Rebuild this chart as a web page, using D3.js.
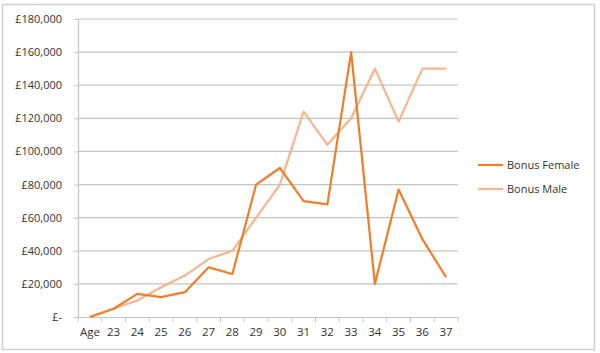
<!DOCTYPE html>
<html>
<head>
<meta charset="utf-8">
<script src="https://cdn.jsdelivr.net/npm/d3@7"></script>
<style>
  body { margin: 0; background: #fff; }
  text { font-family: "Open Sans", sans-serif; fill: #333; }
</style>
</head>
<body>
<div id="chart"></div>
<script>
const categories = ['Age', '23', '24', '25', '26', '27', '28', '29', '30', '31', '32', '33', '34', '35', '36', '37'];
const bonus_female = [0, 5000, 14000, 12000, 15000, 30000, 26000, 80000, 90000, 70000, 68000, 160000, 20000, 77000, 47000, 24000];
const bonus_male = [0, 5000, 10000, 18000, 25000, 35000, 40000, 60000, 80000, 124000, 104000, 120000, 150000, 118000, 150000, 150000];
const y_ticks = [0, 20000, 40000, 60000, 80000, 100000, 120000, 140000, 160000, 180000];

const series = [
    { name: 'Bonus Female', values: bonus_female, color: '#f07d2a' },
    { name: 'Bonus Male', values: bonus_male, color: '#f6b48f' },
];

const chart_width = 600;
const chart_height = 353;

const svg = d3.select('#chart')
    .append('svg')
    .attr('width', chart_width)
    .attr('height', chart_height);

// Outer border
svg.append('rect')
    .attr('x', 2.5)
    .attr('y', 4.5)
    .attr('width', 592)
    .attr('height', 345)
    .attr('fill', '#fff')
    .attr('stroke', '#d0d0d0')
    .attr('stroke-width', 1.5);

// Scales
const x_scale = d3.scaleBand()
    .domain(categories)
    .range([78, 458]);

const y_scale = d3.scaleLinear()
    .domain([0, 180000])
    .range([317, 19]);

// Gridlines
svg.append('g')
    .selectAll('line')
    .data(y_ticks.slice(1))
    .enter()
    .append('line')
    .attr('x1', 78)
    .attr('x2', 458)
    .attr('y1', d => y_scale(d))
    .attr('y2', d => y_scale(d))
    .attr('stroke', '#c4c4c4')
    .attr('stroke-width', 1.2);

// Y axis
const y_axis = d3.axisLeft(y_scale)
    .tickValues(y_ticks)
    .tickSize(4)
    .tickFormat(d => d === 0 ? '£-' : '£' + d3.format(',')(d));
const gy = svg.append('g')
    .attr('transform', 'translate(78, 0)')
    .call(y_axis);
gy.select('.domain').attr('stroke', '#c4c4c4').attr('stroke-width', 1.2);
gy.selectAll('.tick line').attr('stroke', '#c4c4c4');
gy.selectAll('.tick text')
    .attr('x', -16)
    .style('font-size', '11px')
    .style('font-family', '"Open Sans", sans-serif')
    .attr('fill', '#333');

// X axis
const x_axis = d3.axisBottom(x_scale)
    .tickSize(0)
    .tickPadding(11);
const gx = svg.append('g')
    .attr('transform', 'translate(0, 317)')
    .call(x_axis);
gx.select('.domain').attr('stroke', '#c4c4c4').attr('stroke-width', 1.2);
gx.selectAll('.tick text')
    .style('font-size', '11.5px')
    .style('font-family', '"Open Sans", sans-serif')
    .attr('fill', '#333');

// Category boundary ticks
svg.append('g')
    .selectAll('line')
    .data(categories)
    .enter()
    .append('line')
    .attr('x1', d => x_scale(d))
    .attr('x2', d => x_scale(d))
    .attr('y1', 317)
    .attr('y2', 322)
    .attr('stroke', '#c4c4c4');
svg.append('line')
    .attr('x1', 458).attr('x2', 458)
    .attr('y1', 317).attr('y2', 322)
    .attr('stroke', '#c4c4c4');

// Lines
const line = d3.line()
    .x((d, i) => x_scale(categories[i]) + x_scale.bandwidth() / 2)
    .y(d => y_scale(d));

svg.append('g')
    .selectAll('path')
    .data(series.slice().reverse())
    .enter()
    .append('path')
    .attr('d', d => line(d.values))
    .attr('fill', 'none')
    .attr('stroke', d => d.color)
    .attr('stroke-width', 2.2)
    .attr('stroke-linejoin', 'round');

// Legend
const legend = svg.append('g')
    .selectAll('g')
    .data(series)
    .enter()
    .append('g')
    .attr('transform', (d, i) => `translate(478, ${165 + i * 24})`);
legend.append('line')
    .attr('x1', 0)
    .attr('x2', 25)
    .attr('stroke', d => d.color)
    .attr('stroke-width', 2.2);
legend.append('text')
    .attr('x', 29)
    .attr('dy', '0.35em')
    .style('font-size', '11px')
    .text(d => d.name);
</script>
</body>
</html>
